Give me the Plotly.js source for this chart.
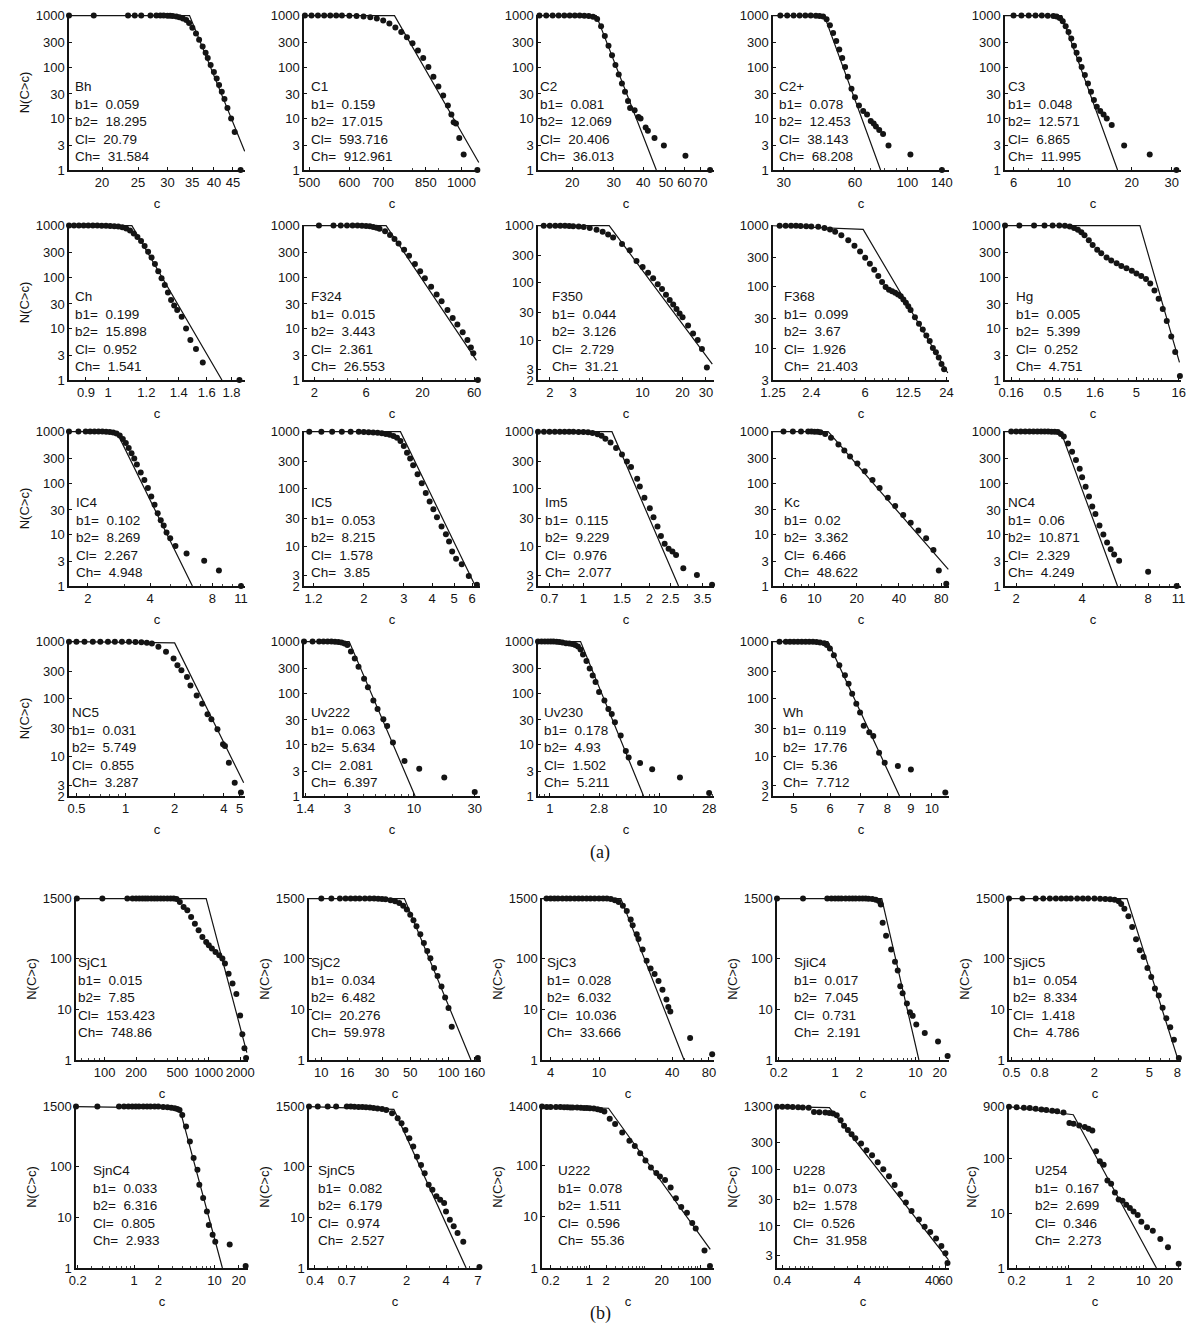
<!DOCTYPE html>
<html><head><meta charset="utf-8">
<script src="https://cdn.plot.ly/plotly-3.0.1.min.js"></script>
<style>html,body{margin:0;padding:0;background:#fff}#chart{width:1188px;height:1344px}</style>
</head><body><div id="chart"></div>
<script>
// ---------------- DATA ----------------
const yA  = [1,3,10,30,100,300,1000];
const yA2 = [2,3,10,30,100,300,1000];
const yA3 = [3,10,30,100,300,1000];
const yB  = [1,10,100,1500];
const yU222 = [1,10,100,1400];
const yU228 = [3,10,30,100,300,1300];
const yU254 = [1,10,100,900];

// Bh
const bh_c = [16.3,19,23.5,24.5,25.5,27,28,28.7,29.3,30,30.5,31,31.7,32.3,33,33.7,34.3,35,35.8,36.5,37.3,38,38.5,39.2,40,40.7,41.3,42,42.7,43.5,44.5,45.5,47.2];
const bh_n = [1000,1000,1000,1000,1000,1000,1000,1000,1000,995,990,980,960,930,880,820,720,580,450,340,250,190,150,110,80,60,45,33,24,16,10,5.5,1];
const bh_fc = [16.3,34.4,48.4], bh_fn = [1000,1000,2.3];
const bh_xt = [20,25,30,35,40,45], bh_xr = [16.3,48.5];
const bh_p = ['0.059','18.295','20.79','31.584'];
// C1
const c1_c = [490,505,520,535,550,565,580,600,620,640,660,680,700,720,740,760,780,800,820,840,860,880,900,920,940,955,965,975,990,1010,1075];
const c1_n = [1000,1000,1000,1000,1000,1000,1000,995,985,965,930,880,800,700,590,480,380,290,210,150,100,65,42,28,18,12,8.5,8,4.2,2,1];
const c1_fc = [488,737,1082], c1_fn = [1000,1000,1.4];
const c1_xt = [500,600,700,850,1000], c1_xr = [488,1088];
const c1_p = ['0.159','17.015','593.716','912.961'];
// C2
const c2_c = [14.5,15.5,16.5,17.5,18.5,19.5,20.5,21.5,22.5,23.5,24.5,25.5,26.5,27.5,28.5,29.5,30.5,31.5,32.5,33.5,34.5,35.2,36.8,38.2,39,41,41.9,44.7,49,60.5,77];
const c2_n = [1000,1000,1000,1000,1000,1000,1000,1000,995,985,950,860,620,400,260,170,110,72,48,33,22,16,14.5,10.7,10,6.7,5.8,4.2,3,1.9,1];
const c2_fc = [14.5,25.3,45.5], c2_fn = [1000,1000,1];
const c2_xt = [20,30,40,50,60,70], c2_xr = [14.3,80];
const c2_p = ['0.081','12.069','20.406','36.013'];
// C2+
const c2p_c = [27,29,31,33,35,37,39,41,42.5,44,45.5,47,48.5,50,51.5,53,54.5,56,58,60,62.4,65,67.5,70,72,73.6,76,78.9,83.2,103,140];
const c2p_n = [1000,1000,1000,1000,1000,1000,1000,995,985,960,850,650,460,320,220,150,100,65,38,26,18,14,12,9,8,7,6,5,3,2,1];
const c2p_fc = [27,44.5,77], c2p_fn = [1000,1000,1];
const c2p_xt = [30,60,100,140], c2p_xr = [27,150];
const c2p_p = ['0.078','12.453','38.143','68.208'];
// C3
const c3_c = [5.5,6,6.5,7,7.5,8,8.5,9,9.3,9.6,9.9,10.2,10.5,10.8,11.1,11.4,11.7,12,12.4,12.8,13.2,13.6,14,14.5,15,15.5,16.3,18.5,24,31.5];
const c3_n = [1000,1000,1000,1000,1000,1000,995,985,960,900,780,620,480,360,260,190,140,100,70,48,33,23,17,14,12,10,7.5,3,2,1];
const c3_fc = [5.5,9.8,17.3], c3_fn = [1000,1000,1];
const c3_xt = [6,10,20,30], c3_xr = [5.5,33];
const c3_p = ['0.048','12.571','6.865','11.995'];
// Ch
const ch_c = [0.83,0.85,0.87,0.89,0.91,0.93,0.95,0.97,0.99,1.01,1.03,1.05,1.07,1.09,1.11,1.13,1.15,1.17,1.19,1.21,1.23,1.25,1.27,1.29,1.31,1.33,1.35,1.37,1.39,1.42,1.45,1.48,1.52,1.57,1.87];
const ch_n = [1000,1000,1000,1000,1000,1000,1000,995,990,985,975,960,930,880,800,700,600,500,400,310,240,180,130,95,70,50,36,28,23,17,10,6,4,2.2,1];
const ch_fc = [0.83,1.12,1.72], ch_fn = [1000,1000,1];
const ch_xt = [0.9,1,1.2,1.4,1.6,1.8], ch_xr = [0.83,1.92];
const ch_p = ['0.199','15.898','0.952','1.541'];
// F324
const f324_c = [1.6,2.2,3.0,3.5,4.0,4.5,5.0,5.5,6.0,6.5,7.0,7.5,8.0,9.0,10,11,12,13.5,15,17,19,21,24,27,30,34,38,42,47,52,56,59,65];
const f324_n = [1000,1000,1000,1000,1000,1000,1000,995,985,970,945,910,870,780,660,550,450,340,260,180,130,95,65,46,34,23,16,12,8.5,6,4.3,3.3,1];
const f324_fc = [1.6,9.2,63], f324_fn = [1000,1000,2.4];
const f324_xt = [2,6,20,60], f324_xr = [1.6,68];
const f324_p = ['0.015','3.443','2.361','26.553'];
// F350
const f350_c = [1.63,1.8,2.0,2.2,2.4,2.6,2.8,3.0,3.3,3.6,4.0,4.5,5.0,5.5,6.0,7.0,8.0,9.0,10,11,12,13,14,15,16,17,18,19,20,22,24,26,28,30.5,32];
const f350_n = [1000,1000,1000,1000,1000,995,990,980,965,945,910,850,780,700,620,480,370,240,190,150,120,95,78,62,50,42,35,29,25,18,13,10,7,3.3,2];
const f350_fc = [1.63,5.6,33.5], f350_fn = [1000,1000,3.8];
const f350_xt = [2,3,10,20,30], f350_xr = [1.63,34.5];
const f350_p = ['0.044','3.126','2.729','31.21'];
// F368
const f368_c = [1.25,1.4,1.55,1.7,1.85,2.0,2.2,2.4,2.7,3.0,3.3,3.6,4.0,4.5,5.0,5.5,6.0,6.5,7.0,7.5,8.0,8.5,9.0,9.5,10,10.5,11,11.5,12,12.5,13,14,15,16,17,18,19,20,21,22,23,24.5];
const f368_n = [1000,1000,1000,1000,995,990,985,975,960,920,870,800,700,580,470,380,300,240,190,150,120,100,90,85,80,75,70,62,55,48,42,32,25,20,16,13,10,8.5,7,5.5,4.5,3];
const f368_fc = [1.25,5.8,24.5], f368_fn = [1000,870,3.9];
const f368_xt = [1.25,2.4,6,12.5,24], f368_xr = [1.25,25];
const f368_p = ['0.099','3.67','1.926','21.403'];
// Hg
const hg_c = [0.135,0.2,0.3,0.4,0.5,0.6,0.7,0.8,0.9,1.0,1.1,1.2,1.35,1.5,1.7,1.9,2.2,2.5,2.9,3.3,3.8,4.4,5.0,5.7,6.5,7.3,8.2,9.2,10.3,11.5,13,14.5,16.5];
const hg_n = [1000,1000,1000,1000,1000,1000,990,960,900,830,740,650,520,420,340,290,240,210,185,165,148,132,118,105,92,75,55,38,24,14,7,3.5,1.2];
const hg_fc = [0.135,5.5,16.3], hg_fn = [1000,1000,2.2];
const hg_xt = [0.16,0.5,1.6,5,16], hg_xr = [0.135,17];
const hg_p = ['0.005','5.399','0.252','4.751'];
// IC4
const ic4_c = [1.62,1.8,1.95,2.05,2.15,2.25,2.35,2.45,2.55,2.65,2.75,2.85,2.95,3.05,3.15,3.25,3.35,3.45,3.6,3.75,3.9,4.05,4.2,4.35,4.5,4.65,4.8,5.0,5.3,6.0,7.3,8.6,11];
const ic4_n = [1000,1000,1000,1000,1000,1000,1000,995,985,965,920,840,720,600,480,380,300,230,160,115,80,55,38,26,19,15,11,8.5,6,4.3,3.1,2.0,1];
const ic4_fc = [1.62,2.75,6.4], ic4_fn = [1000,1000,1];
const ic4_xt = [2,4,8,11], ic4_xr = [1.62,11.5];
const ic4_p = ['0.102','8.269','2.267','4.948'];
// IC5
const ic5_c = [1.09,1.15,1.3,1.45,1.6,1.75,1.9,2.0,2.1,2.2,2.3,2.4,2.5,2.6,2.7,2.8,2.9,3.0,3.1,3.2,3.3,3.45,3.6,3.75,3.9,4.05,4.2,4.4,4.6,4.75,4.9,5.1,5.4,5.8,6.3];
const ic5_n = [1000,1000,1000,1000,1000,1000,995,990,980,970,955,935,910,880,840,780,690,560,430,340,260,180,125,85,60,44,32,22,16,12,8,6,4.8,3,2.1];
const ic5_fc = [1.09,2.9,6.2], ic5_fn = [1000,1000,2];
const ic5_xt = [1.2,2,3,4,5,6], ic5_xr = [1.09,6.5];
const ic5_p = ['0.053','8.215','1.578','3.85'];
// Im5
const im5_c = [0.62,0.66,0.7,0.74,0.78,0.82,0.86,0.9,0.95,1.0,1.05,1.1,1.16,1.21,1.26,1.33,1.41,1.5,1.58,1.65,1.76,1.81,1.9,2.01,2.09,2.18,2.26,2.35,2.45,2.55,2.65,2.86,3.3,3.87];
const im5_n = [1000,1000,1000,1000,1000,1000,1000,995,990,985,975,950,900,850,750,650,520,400,300,240,150,110,70,46,32,22,15,11,9,8,7,4.1,3.1,2.1];
const im5_fc = [0.62,1.35,2.72], im5_fn = [1000,1000,2];
const im5_xt = [0.7,1,1.5,2,2.5,3.5], im5_xr = [0.62,3.95];
const im5_p = ['0.115','9.229','0.976','2.077'];
// Kc
const kc_c = [5.05,6.0,7.0,8.0,9.0,9.5,10,10.5,11,11.9,13.1,14.8,16.3,17.9,20.2,22.8,25.9,29.1,33.3,37.6,42.9,48.5,55,62.5,70.5,77,87];
const kc_n = [1000,1000,1000,1000,1000,1000,995,990,970,900,760,560,430,330,240,170,115,80,52,36,24,17,12,8.5,5,2,1.1];
const kc_fc = [5.05,12.5,90], kc_fn = [1000,1000,2.1];
const kc_xt = [6,10,20,40,80], kc_xr = [5.05,91];
const kc_p = ['0.02','3.362','6.466','48.622'];
// NC4
const nc4_c = [1.78,1.9,2.0,2.1,2.2,2.3,2.4,2.5,2.6,2.7,2.8,2.9,3.0,3.1,3.2,3.3,3.45,3.6,3.75,3.9,4.0,4.15,4.3,4.45,4.6,4.8,5.0,5.2,5.4,5.6,5.9,8,10.8];
const nc4_n = [1000,1000,1000,1000,1000,1000,1000,1000,1000,1000,1000,995,990,980,900,800,590,405,280,190,130,85,55,35,25,15,10,7,5.2,4.1,3.1,1.9,1];
const nc4_fc = [1.78,3.2,5.8], nc4_fn = [1000,1000,1];
const nc4_xt = [2,4,8,11], nc4_xr = [1.78,11.3];
const nc4_p = ['0.06','10.871','2.329','4.249'];
// NC5
const nc5_c = [0.45,0.5,0.56,0.63,0.7,0.78,0.86,0.95,1.05,1.15,1.25,1.35,1.45,1.59,1.77,1.97,2.08,2.2,2.38,2.5,2.73,2.95,3.18,3.36,3.66,3.96,4.07,4.3,4.67,5.1];
const nc5_n = [1000,1000,1000,1000,1000,1000,1000,1000,995,990,980,960,930,816,666,508,388,316,241,172,115,82,54,44,29.5,16,15,7.6,3.4,2.3];
const nc5_fc = [0.45,2.0,5.3], nc5_fn = [1000,950,3.4];
const nc5_xt = [0.5,1,2,4,5], nc5_xr = [0.45,5.4];
const nc5_p = ['0.031','5.749','0.855','3.287'];
// Uv222
const uv222_c = [1.37,1.6,1.8,1.95,2.1,2.25,2.4,2.55,2.7,2.85,3.0,3.2,3.43,3.67,4.06,4.35,4.8,5.18,5.75,6.16,6.84,8.43,11.0,17.3,30];
const uv222_n = [1000,1000,1000,1000,1000,1000,995,985,960,920,860,640,470,325,190,130,72,49,31,23,11,4.8,3.4,2.3,1.2];
const uv222_fc = [1.37,3.1,10.2], uv222_fn = [1000,1000,1];
const uv222_xt = [1.4,3,10,30], uv222_xr = [1.37,33];
const uv222_p = ['0.063','5.634','2.081','6.397'];
// Uv230
const uv230_c = [0.78,0.84,0.9,0.96,1.02,1.08,1.15,1.22,1.3,1.4,1.5,1.6,1.7,1.8,1.9,2.0,2.15,2.3,2.45,2.6,2.8,3.13,3.4,3.65,3.9,4.4,4.9,5.2,6.6,8.5,15.2,28];
const uv230_n = [1000,1000,1000,1000,1000,1000,990,980,960,930,920,900,860,800,700,560,420,300,220,164,105,72,49,39,27,15,7.5,5.6,4.4,3.3,2.3,1.15];
const uv230_fc = [0.78,1.9,7.1], uv230_fn = [1000,1000,1];
const uv230_xt = [1,2.8,10,28], uv230_xr = [0.78,31];
const uv230_p = ['0.178','4.93','1.502','5.211'];
// Wh
const wh_c = [4.5,4.65,4.8,4.9,5.0,5.1,5.2,5.3,5.4,5.5,5.6,5.7,5.82,5.9,5.99,6.11,6.28,6.46,6.58,6.7,6.84,6.97,7.1,7.3,7.45,7.67,7.89,8.43,9.0,10.7];
const wh_n = [1000,1000,1000,1000,1000,1000,1000,1000,1000,995,985,970,935,873,763,582,388,258,184,123,82,58,34,26,22.5,11.4,7.6,6.7,5.8,2.3];
const wh_fc = [4.5,5.93,8.5], wh_fn = [1000,1000,2];
const wh_xt = [5,6,7,8,9,10], wh_xr = [4.5,10.9];
const wh_p = ['0.119','17.76','5.36','7.712'];
// SjC1
const sjc1_c = [54,95,165,185,200,215,230,245,260,280,300,320,345,370,400,430,460,490,527,573,622,676,735,798,868,944,1000,1070,1160,1260,1350,1430,1550,1690,1840,2000,2100,2200,2280];
const sjc1_n = [1500,1500,1500,1500,1500,1500,1500,1500,1500,1500,1500,1500,1500,1500,1500,1500,1500,1480,1290,1030,886,655,482,357,264,211,182,156,134,115,99,79,50,32,20,7.5,3.2,1.7,1.1];
const sjc1_fc = [54,944,2320], sjc1_fn = [1500,1500,1.4];
const sjc1_xt = [100,200,500,1000,2000], sjc1_xr = [53,2380];
const sjc1_p = ['0.015','7.85','153.423','748.86'];
// SjC2
const sjc2_c = [8,10,12,14,15.5,17,18.5,20,22,24,26,28,30,32,35,38,41,44,47,50,53,56,60,64,68,72,77,82,88,94,100,106,170];
const sjc2_n = [1500,1500,1500,1500,1500,1500,1500,1500,1500,1500,1500,1490,1480,1450,1400,1330,1230,1080,920,720,560,430,300,200,140,100,65,45,28,17,10.5,4.5,1.1];
const sjc2_fc = [8,45,150], sjc2_fn = [1500,1500,1];
const sjc2_xt = [10,16,30,50,100,160], sjc2_xr = [8,180];
const sjc2_p = ['0.034','6.482','20.276','59.978'];
// SjC3
const sjc3_c = [3.4,3.7,4.0,4.3,4.6,5.0,5.4,5.8,6.3,6.8,7.3,7.9,8.5,9.2,10,10.8,11.6,12.5,13.5,14.5,15.7,16.9,18.2,18.9,20.4,21.1,22.8,24.6,26.5,28.6,30.8,33.2,35.8,37.1,38.5,56,85];
const sjc3_n = [1500,1500,1500,1500,1500,1500,1500,1500,1500,1500,1500,1500,1500,1500,1500,1500,1500,1480,1400,1280,1090,860,580,450,300,240,150,90,63,49,36,24,15.5,11,9,2.7,1.3];
const sjc3_fc = [3.4,15.1,50], sjc3_fn = [1500,1500,1];
const sjc3_xt = [4,10,40,80], sjc3_xr = [3.4,88];
const sjc3_p = ['0.028','6.032','10.036','33.666'];
// SjiC4
const sjc4_c = [0.19,0.4,0.8,0.9,1.0,1.1,1.2,1.35,1.5,1.65,1.8,2.0,2.2,2.4,2.6,2.9,3.2,3.5,3.7,3.9,4.3,4.97,5.55,6.0,6.45,6.9,7.8,8.5,9.2,10.2,13,19,25];
const sjc4_n = [1500,1500,1500,1500,1500,1500,1500,1500,1500,1500,1500,1500,1500,1500,1490,1470,1430,1350,1150,500,280,150,86,58,28.4,20.7,12.9,8.7,7.4,5.0,3.4,2.3,1.2];
const sjc4_fc = [0.19,3.8,11], sjc4_fn = [1500,1500,1];
const sjc4_xt = [0.2,1,2,10,20], sjc4_xr = [0.19,26];
const sjc4_p = ['0.017','7.045','0.731','2.191'];
// SjiC5
const sjc5_c = [0.48,0.6,0.75,0.85,0.95,1.05,1.15,1.25,1.35,1.5,1.65,1.8,2.0,2.2,2.4,2.6,2.8,3.0,3.13,3.3,3.53,3.76,4.01,4.27,4.55,4.85,5.17,5.5,5.86,6.25,6.65,7.1,7.55,8.2];
const sjc5_n = [1500,1500,1500,1500,1500,1500,1500,1500,1500,1500,1500,1500,1500,1490,1480,1460,1420,1330,1180,950,673,414,237,145,106,65,43,25.6,18.5,10.7,6.6,4.4,2.5,1.1];
const sjc5_fc = [0.48,3.45,8.1], sjc5_fn = [1500,1500,1];
const sjc5_xt = [0.5,0.8,2,5,8], sjc5_xr = [0.48,8.5];
const sjc5_p = ['0.054','8.334','1.418','4.786'];
// SjnC4
const sjnc4_c = [0.19,0.35,0.65,0.75,0.85,0.95,1.05,1.15,1.3,1.45,1.6,1.8,2.0,2.3,2.6,2.9,3.2,3.45,3.67,3.97,4.42,4.93,5.49,6.12,6.46,7.21,8.03,8.48,9.45,10.2,15.4,24.3];
const sjnc4_n = [1500,1500,1500,1500,1500,1500,1500,1500,1500,1500,1500,1500,1500,1480,1460,1430,1400,1350,1290,1030,611,310,146,86,43.6,23.8,12.9,7.0,4.5,3.3,2.9,1.1];
const sjnc4_fc = [0.19,3.67,12.5], sjnc4_fn = [1500,1400,1];
const sjnc4_xt = [0.2,1,2,10,20], sjnc4_xr = [0.19,26];
const sjnc4_p = ['0.033','6.316','0.805','2.933'];
// SjnC5
const sjnc5_c = [0.36,0.42,0.5,0.58,0.7,0.75,0.8,0.86,0.92,0.98,1.05,1.12,1.2,1.3,1.4,1.55,1.71,1.83,1.96,2.1,2.25,2.4,2.58,2.75,2.95,3.15,3.38,3.61,3.87,4.0,4.28,4.58,4.9,5.42,7.2];
const sjnc5_n = [1500,1500,1500,1500,1500,1500,1490,1480,1470,1460,1440,1410,1380,1340,1290,1110,884,704,520,357,245,155,107,73,43.6,34.7,25.7,22,19,13,8.9,6.6,4.9,3.3,1.05];
const sjnc5_fc = [0.36,1.6,5.7], sjnc5_fn = [1500,1320,1];
const sjnc5_xt = [0.4,0.7,2,4,7], sjnc5_xr = [0.36,7.4];
const sjnc5_p = ['0.082','6.179','0.974','2.527'];
// U222
const u222_c = [0.14,0.17,0.2,0.25,0.3,0.35,0.4,0.45,0.5,0.6,0.7,0.8,0.9,1.02,1.2,1.4,1.6,1.86,2.32,2.9,3.9,5.25,6.56,8.2,10.2,12.8,16,18.6,23,29,36,45,57,71,82,118,148];
const u222_n = [1400,1380,1380,1370,1370,1360,1360,1350,1350,1340,1330,1320,1310,1300,1280,1250,1200,1120,810,640,440,303,238,173,125,91,71,61,52,37,23,15.4,12,7.5,5.9,2.2,1.1];
const u222_fc = [0.14,2.2,150], u222_fn = [1400,1300,2.3];
const u222_xt = [0.2,1,2,20,100], u222_xr = [0.14,175];
const u222_p = ['0.078','1.511','0.596','55.36'];
// U228
const u228_c = [0.34,0.4,0.47,0.55,0.65,0.75,0.9,1.06,1.25,1.5,1.7,1.9,2.13,2.4,2.67,3.0,3.36,3.77,4.5,5.3,6.3,7.5,8.9,10.6,12.6,15,17.8,21.2,26.6,31.7,37.6,45,53,60,64];
const u228_n = [1300,1300,1290,1280,1270,1260,1250,1050,1040,1020,1000,980,912,750,600,500,420,360,290,220,179,135,101,76,53,37,26,18.5,13,9.7,7.8,6,4.4,3.3,2.2];
const u228_fc = [0.34,1.7,66], u228_fn = [1300,1250,2.5];
const u228_xt = [0.4,4,40,60], u228_xr = [0.34,67];
const u228_p = ['0.073','1.578','0.526','31.958'];
// U254
const u254_c = [0.158,0.2,0.25,0.3,0.36,0.43,0.5,0.6,0.7,0.85,1.02,1.16,1.38,1.64,1.84,2.07,2.32,2.61,2.94,3.3,3.7,4.16,4.67,5.25,5.9,6.6,7.4,8.4,9.4,11.2,13.4,16.9,21.4,29.8];
const u254_n = [900,880,860,850,820,800,780,760,740,700,450,438,408,380,354,330,138,90,78,40,35,24,18,17,14.4,12.5,10.8,9.3,7.0,5.6,4.8,3.4,2.4,1.2];
const u254_fc = [0.158,1.15,15], u254_fn = [900,640,1];
const u254_xt = [0.2,1,2,10,20], u254_xr = [0.158,32];
const u254_p = ['0.167','2.699','0.346','2.273'];

// ---------------- PANELS ----------------
const panels = [
 {nm:'Bh',   c:bh_c, n:bh_n, fc:bh_fc, fn:bh_fn, xt:bh_xt, xr:bh_xr, yr:[1,1000], yt:yA, p:bh_p, part:'a', row:0, col:0, tx:0.02},
 {nm:'C1',   c:c1_c, n:c1_n, fc:c1_fc, fn:c1_fn, xt:c1_xt, xr:c1_xr, yr:[1,1000], yt:yA, p:c1_p, part:'a', row:0, col:1, tx:0.03},
 {nm:'C2',   c:c2_c, n:c2_n, fc:c2_fc, fn:c2_fn, xt:c2_xt, xr:c2_xr, yr:[1,1000], yt:yA, p:c2_p, part:'a', row:0, col:2, tx:0.0},
 {nm:'C2+',  c:c2p_c, n:c2p_n, fc:c2p_fc, fn:c2p_fn, xt:c2p_xt, xr:c2p_xr, yr:[1,1000], yt:yA, p:c2p_p, part:'a', row:0, col:3, tx:0.025},
 {nm:'C3',   c:c3_c, n:c3_n, fc:c3_fc, fn:c3_fn, xt:c3_xt, xr:c3_xr, yr:[1,1000], yt:yA, p:c3_p, part:'a', row:0, col:4, tx:0.005},
 {nm:'Ch',   c:ch_c, n:ch_n, fc:ch_fc, fn:ch_fn, xt:ch_xt, xr:ch_xr, yr:[1,1000], yt:yA, p:ch_p, part:'a', row:1, col:0, tx:0.02},
 {nm:'F324', c:f324_c, n:f324_n, fc:f324_fc, fn:f324_fn, xt:f324_xt, xr:f324_xr, yr:[1,1000], yt:yA, p:f324_p, part:'a', row:1, col:1, tx:0.03},
 {nm:'F350', c:f350_c, n:f350_n, fc:f350_fc, fn:f350_fn, xt:f350_xt, xr:f350_xr, yr:[2,1000], yt:yA2, p:f350_p, part:'a', row:1, col:2, tx:0.07},
 {nm:'F368', c:f368_c, n:f368_n, fc:f368_fc, fn:f368_fn, xt:f368_xt, xr:f368_xr, yr:[3,1000], yt:yA3, p:f368_p, part:'a', row:1, col:3, tx:0.05},
 {nm:'Hg',   c:hg_c, n:hg_n, fc:hg_fc, fn:hg_fn, xt:hg_xt, xr:hg_xr, yr:[1,1000], yt:yA, p:hg_p, part:'a', row:1, col:4, tx:0.05},
 {nm:'IC4',  c:ic4_c, n:ic4_n, fc:ic4_fc, fn:ic4_fn, xt:ic4_xt, xr:ic4_xr, yr:[1,1000], yt:yA, p:ic4_p, part:'a', row:2, col:0, tx:0.03},
 {nm:'IC5',  c:ic5_c, n:ic5_n, fc:ic5_fc, fn:ic5_fn, xt:ic5_xt, xr:ic5_xr, yr:[2,1000], yt:yA2, p:ic5_p, part:'a', row:2, col:1, tx:0.03},
 {nm:'Im5',  c:im5_c, n:im5_n, fc:im5_fc, fn:im5_fn, xt:im5_xt, xr:im5_xr, yr:[2,1000], yt:yA2, p:im5_p, part:'a', row:2, col:2, tx:0.03},
 {nm:'Kc',   c:kc_c, n:kc_n, fc:kc_fc, fn:kc_fn, xt:kc_xt, xr:kc_xr, yr:[1,1000], yt:yA, p:kc_p, part:'a', row:2, col:3, tx:0.05},
 {nm:'NC4',  c:nc4_c, n:nc4_n, fc:nc4_fc, fn:nc4_fn, xt:nc4_xt, xr:nc4_xr, yr:[1,1000], yt:yA, p:nc4_p, part:'a', row:2, col:4, tx:0.005},
 {nm:'NC5',  c:nc5_c, n:nc5_n, fc:nc5_fc, fn:nc5_fn, xt:nc5_xt, xr:nc5_xr, yr:[2,1000], yt:yA2, p:nc5_p, part:'a', row:3, col:0, tx:0.005},
 {nm:'Uv222',c:uv222_c, n:uv222_n, fc:uv222_fc, fn:uv222_fn, xt:uv222_xt, xr:uv222_xr, yr:[1,1000], yt:yA, p:uv222_p, part:'a', row:3, col:1, tx:0.03},
 {nm:'Uv230',c:uv230_c, n:uv230_n, fc:uv230_fc, fn:uv230_fn, xt:uv230_xt, xr:uv230_xr, yr:[1,1000], yt:yA, p:uv230_p, part:'a', row:3, col:2, tx:0.02},
 {nm:'Wh',   c:wh_c, n:wh_n, fc:wh_fc, fn:wh_fn, xt:wh_xt, xr:wh_xr, yr:[2,1000], yt:yA2, p:wh_p, part:'a', row:3, col:3, tx:0.045},
 {nm:'SjC1', c:sjc1_c, n:sjc1_n, fc:sjc1_fc, fn:sjc1_fn, xt:sjc1_xt, xr:sjc1_xr, yr:[1,1500], yt:yB, p:sjc1_p, part:'b', row:0, col:0, tx:0.0},
 {nm:'SjC2', c:sjc2_c, n:sjc2_n, fc:sjc2_fc, fn:sjc2_fn, xt:sjc2_xt, xr:sjc2_xr, yr:[1,1500], yt:yB, p:sjc2_p, part:'b', row:0, col:1, tx:0.0},
 {nm:'SjC3', c:sjc3_c, n:sjc3_n, fc:sjc3_fc, fn:sjc3_fn, xt:sjc3_xt, xr:sjc3_xr, yr:[1,1500], yt:yB, p:sjc3_p, part:'b', row:0, col:2, tx:0.02},
 {nm:'SjiC4',c:sjc4_c, n:sjc4_n, fc:sjc4_fc, fn:sjc4_fn, xt:sjc4_xt, xr:sjc4_xr, yr:[1,1500], yt:yB, p:sjc4_p, part:'b', row:0, col:3, tx:0.09},
 {nm:'SjiC5',c:sjc5_c, n:sjc5_n, fc:sjc5_fc, fn:sjc5_fn, xt:sjc5_xt, xr:sjc5_xr, yr:[1,1500], yt:yB, p:sjc5_p, part:'b', row:0, col:4, tx:0.01},
 {nm:'SjnC4',c:sjnc4_c, n:sjnc4_n, fc:sjnc4_fc, fn:sjnc4_fn, xt:sjnc4_xt, xr:sjnc4_xr, yr:[1,1500], yt:yB, p:sjnc4_p, part:'b', row:1, col:0, tx:0.09},
 {nm:'SjnC5',c:sjnc5_c, n:sjnc5_n, fc:sjnc5_fc, fn:sjnc5_fn, xt:sjnc5_xt, xr:sjnc5_xr, yr:[1,1500], yt:yB, p:sjnc5_p, part:'b', row:1, col:1, tx:0.04},
 {nm:'U222', c:u222_c, n:u222_n, fc:u222_fc, fn:u222_fn, xt:u222_xt, xr:u222_xr, yr:[1,1400], yt:yU222, p:u222_p, part:'b', row:1, col:2, tx:0.08},
 {nm:'U228', c:u228_c, n:u228_n, fc:u228_fc, fn:u228_fn, xt:u228_xt, xr:u228_xr, yr:[1.8,1300], yt:yU228, p:u228_p, part:'b', row:1, col:3, tx:0.08},
 {nm:'U254', c:u254_c, n:u254_n, fc:u254_fc, fn:u254_fn, xt:u254_xt, xr:u254_xr, yr:[1,900], yt:yU254, p:u254_p, part:'b', row:1, col:4, tx:0.14}
];

// ---------------- LAYOUT ----------------
const W = 1188, H = 1344;
const aLeft = [69,304,538,773,1005], aW = 176, aTop = [15,225,431,641], aH = 155;
const bLeft = [76,309,542,777,1009], bW = 172, bTop = [898,1106], bH = 162;
const FONT = 'Liberation Sans, Arial, Helvetica, sans-serif';
const INK = '#141414';
const NB = '\u00a0';

const data = [];
const layout = {
  width: W, height: H, margin: {l:0, r:0, t:0, b:0},
  showlegend: false, paper_bgcolor: '#fff', plot_bgcolor: 'rgba(0,0,0,0)',
  font: {family: FONT, color: INK}, annotations: []
};

panels.forEach((p, i) => {
  const k = i + 1, s = (k === 1 ? '' : String(k));
  const isA = p.part === 'a';
  const left = isA ? aLeft[p.col] : bLeft[p.col];
  const top = isA ? aTop[p.row] : bTop[p.row];
  const w = isA ? aW : bW, h = isA ? aH : bH;
  const showYTitle = !isA || p.col === 0;
  layout['xaxis' + s] = {
    type: 'log', domain: [left / W, (left + w) / W], anchor: 'y' + s,
    range: [Math.log10(p.xr[0]), Math.log10(p.xr[1])],
    tickmode: 'array', tickvals: p.xt, ticktext: p.xt.map(String), tickangle: 0,
    ticklabeloverflow: 'allow',
    ticks: 'inside', ticklen: 3, tickwidth: 1, tickcolor: INK,
    minor: {tickmode: 'linear', dtick: 'D1', ticks: 'inside', ticklen: 2, tickwidth: 0.8, tickcolor: INK, showgrid: false},
    showline: true, linecolor: INK, linewidth: 1.7, mirror: false,
    showgrid: false, zeroline: false,
    tickfont: {family: FONT, size: 13, color: INK},
    title: {text: 'c', font: {family: FONT, size: 13, color: INK}, standoff: 9}
  };
  layout['yaxis' + s] = {
    type: 'log', domain: [1 - (top + h) / H, 1 - top / H], anchor: 'x' + s,
    range: [Math.log10(p.yr[0]), Math.log10(p.yr[1]) + 0.012],
    tickmode: 'array', tickvals: p.yt, ticktext: p.yt.map(String),
    ticklabeloverflow: 'allow',
    ticks: 'inside', ticklen: 3, tickwidth: 1, tickcolor: INK,
    showline: true, linecolor: INK, linewidth: 1.7, mirror: false,
    showgrid: false, zeroline: false,
    tickfont: {family: FONT, size: 13, color: INK},
    title: {text: showYTitle ? 'N(C>c)' : '', font: {family: FONT, size: 13, color: INK}, standoff: 3}
  };
  data.push({type: 'scatter', mode: 'lines', x: p.fc, y: p.fn, xaxis: 'x' + s, yaxis: 'y' + s,
    line: {color: INK, width: 1.2}, hoverinfo: 'skip'});
  data.push({type: 'scatter', mode: 'markers', x: p.c, y: p.n, xaxis: 'x' + s, yaxis: 'y' + s,
    marker: {size: 6, color: INK}, cliponaxis: false});
  const txt = [p.nm, 'b1=' + NB + ' ' + p.p[0], 'b2=' + NB + ' ' + p.p[1],
               'Cl=' + NB + ' ' + p.p[2], 'Ch=' + NB + ' ' + p.p[3]].join('<br>');
  layout.annotations.push({
    xref: 'x' + s + ' domain', yref: 'y' + s + ' domain', x: p.tx, y: isA ? 0.60 : 0.66,
    xanchor: 'left', yanchor: 'top', align: 'left', showarrow: false, text: txt,
    font: {family: FONT, size: 13.5, color: INK}
  });
});

layout.annotations.push({xref: 'paper', yref: 'paper', x: 600 / W, y: 1 - 852 / H, showarrow: false,
  text: '(a)', font: {family: 'Liberation Serif, Times New Roman, serif', size: 18, color: INK}});
layout.annotations.push({xref: 'paper', yref: 'paper', x: 600 / W, y: 1 - 1326 / H, showarrow: false,
  text: '(b)', font: {family: 'Liberation Serif, Times New Roman, serif', size: 18, color: INK}});

Plotly.newPlot('chart', data, layout, {staticPlot: true});
</script>
</body></html>
